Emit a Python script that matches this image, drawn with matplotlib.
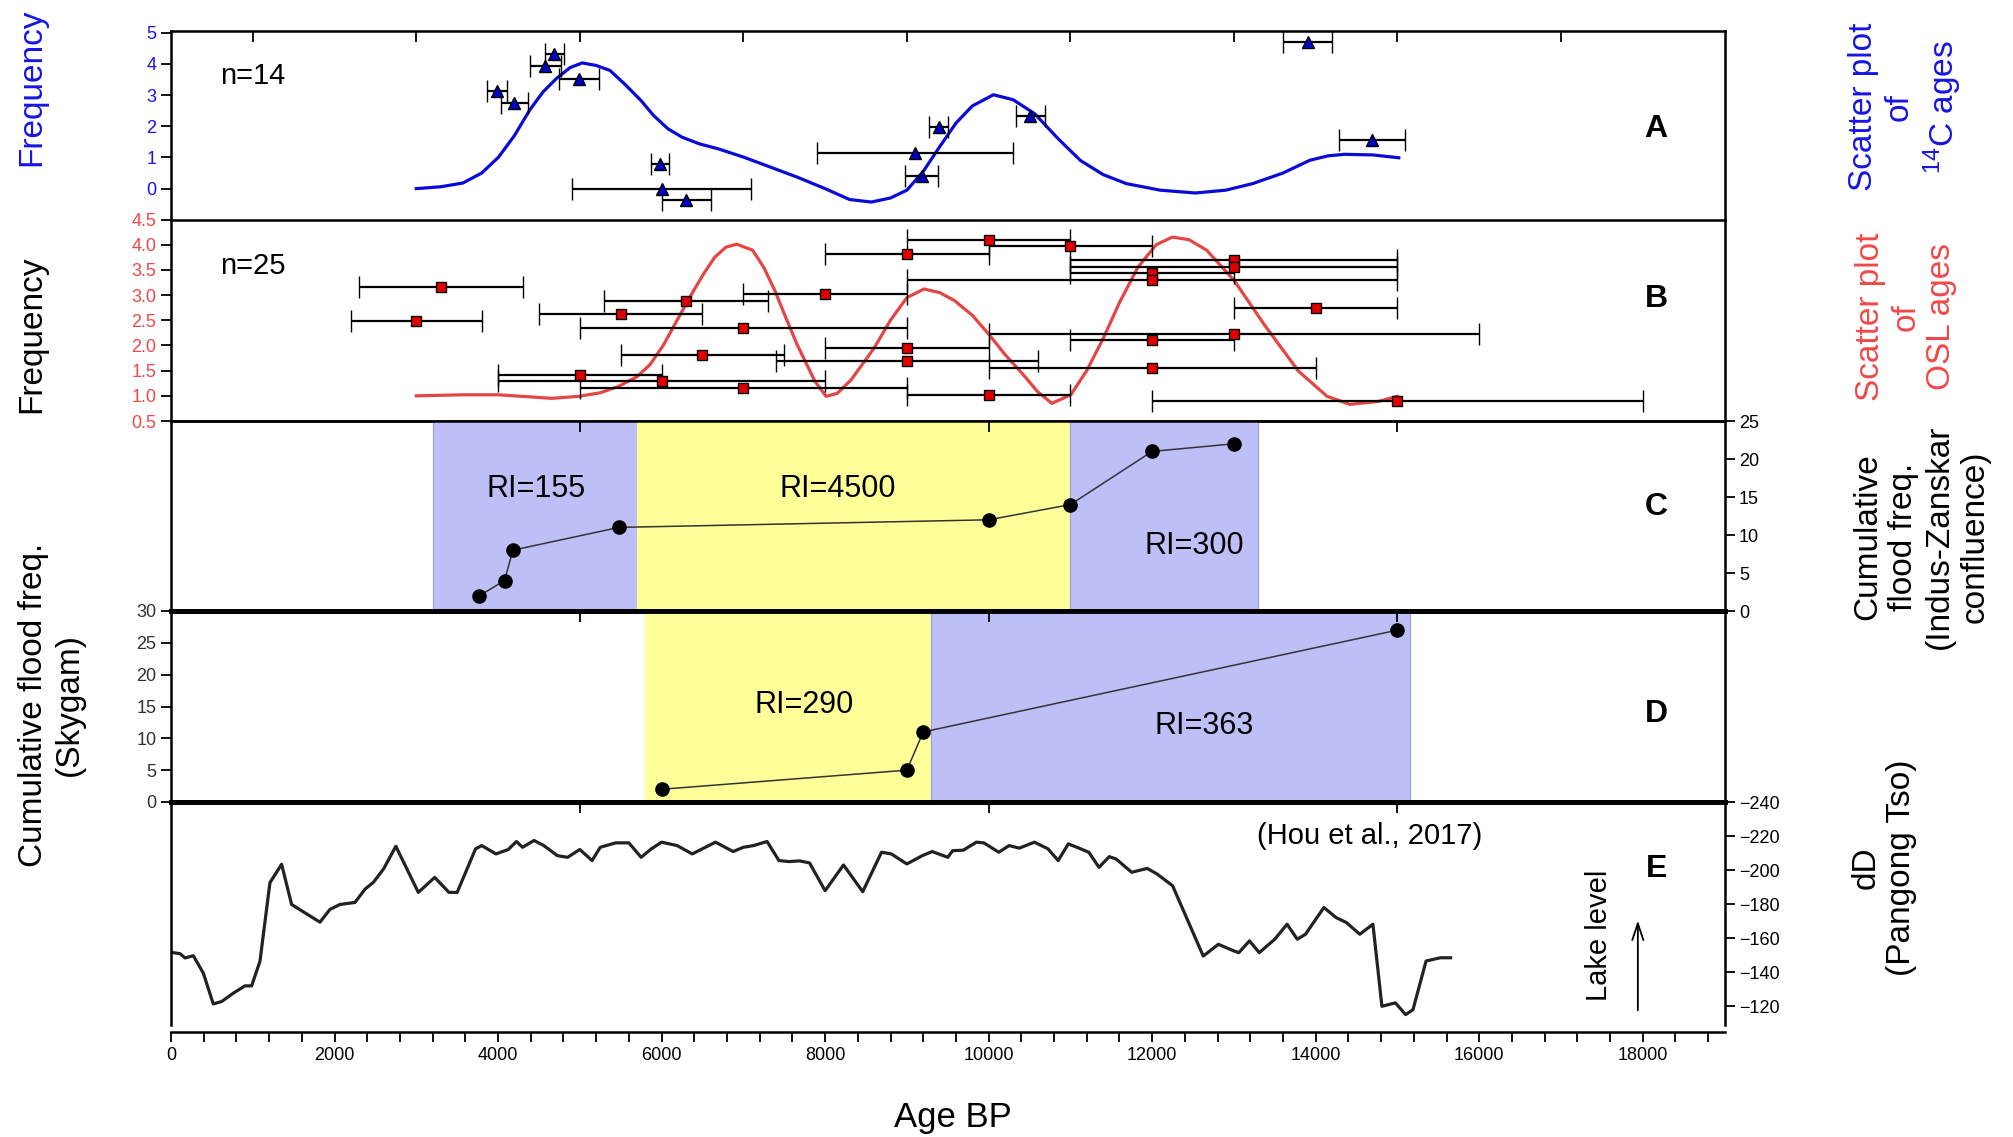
import numpy as np
import matplotlib
matplotlib.use('Agg')
import matplotlib.pyplot as plt

plt.rcParams['font.family'] = ['Liberation Sans', 'DejaVu Sans']
plt.rcParams['mathtext.fontset'] = 'custom'
plt.rcParams['mathtext.rm'] = 'Liberation Sans'

# ---- A: 14C ages ----
c14_age = [4690, 4580, 4990, 3990, 4200, 5980, 6000, 6300, 13900, 9390, 9100, 9180, 10510, 14690]
c14_err = [120, 185, 245, 125, 165, 115, 1090, 300, 300, 115, 1200, 200, 180, 400]
c14_freq = [4.33, 3.92, 3.53, 3.13, 2.75, 0.78, 0.0, -0.37, 4.70, 1.98, 1.14, 0.41, 2.33, 1.55]
c14_curve_age = [3000, 3300, 3570, 3800, 4006, 4200, 4387, 4550, 4714, 4880, 5030, 5200, 5368,
                 5550, 5750, 5900, 6077, 6250, 6458, 6700, 7003, 7300, 7657, 8000, 8300, 8565,
                 8800, 9000, 9200, 9372, 9600, 9800, 10059, 10300, 10564, 10850, 11124, 11400,
                 11685, 12100, 12527, 12900, 13228, 13600, 13929, 14150, 14350, 14700, 15016]
c14_curve = [0.0, 0.06, 0.18, 0.5, 1.01, 1.7, 2.52, 3.1, 3.53, 3.88, 4.03, 3.95, 3.79,
             3.35, 2.82, 2.35, 1.92, 1.65, 1.44, 1.27, 1.01, 0.72, 0.37, 0.0, -0.35, -0.43,
             -0.3, -0.05, 0.55, 1.23, 2.1, 2.65, 3.01, 2.85, 2.4, 1.6, 0.9, 0.45,
             0.16, -0.05, -0.14, -0.05, 0.16, 0.5, 0.91, 1.05, 1.1, 1.08, 0.99]

# ---- B: OSL ages ----
osl_age = [3300, 3000, 6300, 5500, 7000, 6500, 5000, 6000, 7000, 8000, 10000, 11000, 9000,
           13000, 13000, 12000, 12000, 14000, 13000, 12000, 9000, 9000, 12000, 10000, 15000]
osl_err = [1000, 800, 1000, 1000, 2000, 1000, 1000, 2000, 2000, 1000, 1000, 1000, 1000,
           2000, 2000, 1000, 3000, 1000, 3000, 1000, 1000, 1600, 2000, 1000, 3000]
osl_freq = [3.16, 2.48, 2.88, 2.62, 2.35, 1.82, 1.41, 1.29, 1.15, 3.02, 4.09, 3.97, 3.81,
            3.69, 3.55, 3.43, 3.29, 2.75, 2.23, 2.10, 1.95, 1.69, 1.55, 1.02, 0.89]
osl_curve_age = [3000, 3570, 4006, 4660, 4987, 5250, 5477, 5700, 5859, 6020, 6186, 6350, 6513,
                 6650, 6786, 6920, 7113, 7250, 7385, 7520, 7657, 7875, 8012, 8150, 8320, 8600,
                 8800, 9000, 9210, 9400, 9582, 9800, 10003, 10200, 10423, 10600, 10774, 11005,
                 11200, 11405, 11600, 11825, 12050, 12246, 12450, 12667, 13003, 13368, 13789,
                 14139, 14420, 14771, 15000]
osl_curve = [1.0, 1.02, 1.02, 0.95, 0.99, 1.06, 1.19, 1.38, 1.62, 2.0, 2.49, 2.97, 3.42,
             3.75, 3.95, 4.01, 3.89, 3.55, 3.09, 2.55, 2.02, 1.29, 0.99, 1.05, 1.32, 1.95,
             2.5, 2.95, 3.12, 3.05, 2.89, 2.6, 2.22, 1.82, 1.42, 1.08, 0.85, 1.02,
             1.5, 2.15, 2.85, 3.55, 4.0, 4.15, 4.1, 3.89, 3.29, 2.42, 1.49,
             0.99, 0.83, 0.89, 0.99]

# ---- C: Indus-Zanskar cumulative floods ----
iz_age = [3770, 4080, 4180, 5480, 10000, 11000, 12000, 13000]
iz_cum = [2, 4, 8, 11, 12, 14, 21, 22]
iz_spans = [(3200, 5700), (5700, 11000), (11000, 13300)]
iz_colors = ['#bfbff8', '#ffff99', '#bfbff8']
iz_labels = ['RI=155', 'RI=4500', 'RI=300']
iz_label_pos = [(4460, 16.0), (8160, 16.0), (12510, 8.6)]

# ---- D: Skygam cumulative floods ----
sk_age = [6000, 9000, 9200, 15000]
sk_cum = [2, 5, 11, 27]
sk_spans = [(5800, 9300), (9300, 15150)]
sk_colors = ['#ffff99', '#bfbff8']
sk_labels = ['RI=290', 'RI=363']
sk_label_pos = [(7740, 15.3), (12640, 11.9)]

# ---- E: dD Pangong Tso ----
dd_age = [0, 110, 171, 273, 395, 517, 620, 762, 905, 986, 1088, 1210, 1353, 1475, 1822, 1944,
          2066, 2250, 2375, 2475, 2600, 2750, 3025, 3225, 3400, 3500, 3725, 3800, 3975, 4125,
          4225, 4300, 4440, 4560, 4725, 4850, 5000, 5150, 5250, 5440, 5600, 5750, 5875, 6000,
          6190, 6375, 6660, 6875, 7000, 7125, 7290, 7435, 7560, 7690, 7810, 8000, 8225, 8460,
          8690, 8810, 9000, 9190, 9310, 9500, 9560, 9690, 9850, 9940, 10125, 10250, 10375,
          10560, 10725, 10850, 10975, 11125, 11225, 11350, 11475, 11560, 11750, 11940, 12060,
          12250, 12625, 12810, 13000, 13060, 13190, 13310, 13500, 13650, 13775, 13875, 14100,
          14250, 14375, 14540, 14700, 14810, 14975, 15100, 15190, 15350, 15525, 15650]
dd_val = [-151.7, -150.9, -148.4, -149.7, -139.5, -121.4, -122.8, -127.7, -132, -132, -146.4,
          -192.6, -203.4, -179.8, -169.4, -176.9, -179.8, -181, -188.9, -192.8, -200.7, -214,
          -186.9, -195.7, -186.9, -186.9, -212.5, -214.4, -209.5, -212.1, -216.8, -213.4,
          -217.4, -214.4, -208.5, -207.5, -212.1, -205.6, -213.4, -216, -216, -207.5, -212.5,
          -216.4, -214.4, -209.5, -216.4, -210.9, -213.4, -214.4, -216.8, -205.6, -205, -205.4,
          -204.2, -187.9, -203, -187.3, -210.5, -209.5, -203.6, -208.5, -210.9, -207.5, -211.4,
          -211.7, -216.4, -216, -210.5, -214.4, -212.9, -216.4, -212.5, -205.6, -215.4, -212.5,
          -210.5, -201.6, -207.9, -206.5, -198.7, -201, -197.7, -190.8, -149.5, -156.4, -152.5,
          -151.5, -158.4, -151.5, -159.4, -168.2, -159.4, -162.3, -178, -172.1, -169.2, -162.3,
          -168.2, -120, -122, -115.1, -118, -146.6, -148.5, -148.5]

BLUE = '#1414e6'
RED = '#f04848'

W, H = 2013, 1137
fig = plt.figure(figsize=(W / 100, H / 100), dpi=100)


def box(top, bottom, left=171, right=1724.5):
    return [left / W, 1 - bottom / H, (right - left) / W, (bottom - top) / H]


def fpos(x, y):
    return x / W, 1 - y / H


axA = fig.add_axes(box(30.5, 219.5))
axB = fig.add_axes(box(219.5, 421))
axC = fig.add_axes(box(421, 611))
axD = fig.add_axes(box(611, 802))
axE = fig.add_axes(box(802, 1025))

for ax in (axA, axB, axC, axD, axE):
    ax.set_xlim(0, 19000)
    ax.patch.set_alpha(0)
    for s in ax.spines.values():
        s.set_linewidth(1.8)
    ax.tick_params(labelsize=13, width=1.3, length=7)
axB.spines['top'].set_visible(False)

# A
axA.plot(c14_curve_age, c14_curve, color='#0a0ad8', lw=2.3, zorder=2)
axA.errorbar(c14_age, c14_freq, xerr=c14_err, fmt='^', ms=9, mfc='#0000c8', mec='black',
             mew=1.0, ecolor='black', elinewidth=1.6, capsize=8, capthick=1.6, zorder=3)
axA.set_ylim(-0.99, 5.07)
axA.set_yticks(range(0, 6))
axA.tick_params(axis='y', colors='black', labelcolor=BLUE, direction='out')
axA.set_xticks(range(1000, 18000, 2000))
axA.tick_params(axis='x', bottom=False, top=True, direction='in', labelbottom=False, length=8)
axA.text(600, 3.6, 'n=14', fontsize=21, va='center', ha='left')
axA.text(0.956, 0.48, 'A', transform=axA.transAxes, fontsize=23, fontweight='bold',
         ha='center', va='center')

# B
axB.plot(osl_curve_age, osl_curve, color='#e54545', lw=2.3, zorder=2)
axB.errorbar(osl_age, osl_freq, xerr=osl_err, fmt='s', ms=7, mfc='#e00000', mec='black',
             mew=1.0, ecolor='black', elinewidth=1.6, capsize=8, capthick=1.6, zorder=3)
axB.set_ylim(0.5, 4.5)
axB.set_yticks(np.arange(0.5, 4.51, 0.5))
axB.set_yticklabels([f'{v:.1f}' for v in np.arange(0.5, 4.51, 0.5)])
axB.tick_params(axis='y', labelcolor=RED, direction='out')
axB.set_xticks([])
axB.text(600, 3.58, 'n=25', fontsize=21, va='center', ha='left')
axB.text(0.956, 0.605, 'B', transform=axB.transAxes, fontsize=23, fontweight='bold',
         ha='center', va='center')

# C
for (a, b), col in zip(iz_spans, iz_colors):
    axC.axvspan(a, b, color=col, zorder=0, lw=0.8, ec='#9a9ae0' if col != '#ffff99' else col)
axC.plot(iz_age, iz_cum, color='#333333', lw=1.1, marker='o', ms=9.5, mfc='black',
         mec='black', zorder=3)
for t, (x, y) in zip(iz_labels, iz_label_pos):
    axC.text(x, y, t, fontsize=22, ha='center', va='center')
axC.set_ylim(0, 25)
axC.yaxis.tick_right()
axC.set_yticks(range(0, 26, 5))
axC.tick_params(axis='y', direction='out')
axC.set_xticks([5000, 10000, 15000])
axC.tick_params(axis='x', bottom=False, top=True, direction='in', labelbottom=False, length=8)
axC.spines['bottom'].set_linewidth(3.5)
axC.text(0.956, 0.547, 'C', transform=axC.transAxes, fontsize=23, fontweight='bold',
         ha='center', va='center')

# D
for (a, b), col in zip(sk_spans, sk_colors):
    axD.axvspan(a, b, color=col, zorder=0, lw=0.8, ec='#9a9ae0' if col != '#ffff99' else col)
axD.plot(sk_age, sk_cum, color='#333333', lw=1.1, marker='o', ms=9.5, mfc='black',
         mec='black', zorder=3)
for t, (x, y) in zip(sk_labels, sk_label_pos):
    axD.text(x, y, t, fontsize=22, ha='center', va='center')
axD.set_ylim(0, 30)
axD.set_yticks(range(0, 31, 5))
axD.tick_params(axis='y', direction='out', labelcolor='#333333')
axD.set_xticks([5000, 10000, 15000])
axD.tick_params(axis='x', bottom=False, top=True, direction='in', labelbottom=False, length=8)
axD.spines['top'].set_linewidth(3.5)
axD.spines['bottom'].set_linewidth(3.5)
axD.text(0.956, 0.46, 'D', transform=axD.transAxes, fontsize=23, fontweight='bold',
         ha='center', va='center')

# E
axE.plot(dd_age, dd_val, color='#222222', lw=2.3)
axE.set_ylim(-109, -240)
axE.yaxis.tick_right()
axE.set_yticks(range(-240, -119, 20))
axE.tick_params(axis='y', direction='out')
axE.spines['top'].set_linewidth(3.5)
axE.spines['bottom'].set_position(('outward', 5))
axE.set_xticks(range(0, 18001, 2000))
axE.set_xticks(np.arange(0, 19001, 400), minor=True)
axE.tick_params(axis='x', which='both', direction='out', length=7, width=1.3)
secE = axE.secondary_xaxis('top')
secE.set_xticks([5000, 10000, 15000])
secE.tick_params(direction='in', length=8, width=1.3, labeltop=False)
secE.spines['top'].set_visible(False)
axE.text(14660, -219.8, '(Hou et al., 2017)', fontsize=21, ha='center', va='center')
axE.text(17470, -161.6, 'Lake level', fontsize=21, rotation=90, ha='center', va='center')
axE.annotate('', xy=(17940, -172), xytext=(17940, -116),
             arrowprops=dict(arrowstyle='->,head_length=1.2,head_width=0.4', lw=1.3,
                             color='black'))
axE.text(0.956, 0.70, 'E', transform=axE.transAxes, fontsize=23, fontweight='bold',
         ha='center', va='center')

# axis titles
fig.text(*fpos(953, 1117), 'Age BP', fontsize=25, ha='center', va='center')
fig.text(*fpos(32, 87), 'Frequency', fontsize=24, color=BLUE, rotation=90,
         ha='center', va='center')
fig.text(*fpos(32, 334), 'Frequency', fontsize=24, rotation=90, ha='center', va='center')
fig.text(*fpos(51, 705), 'Cumulative flood freq.\n(Skygam)', fontsize=24, rotation=90,
         ha='center', va='center', multialignment='center')
fig.text(*fpos(1906, 107), 'Scatter plot\nof\n$^{14}$C ages', fontsize=24, color=BLUE,
         rotation=90, ha='center', va='center', multialignment='center')
fig.text(*fpos(1906, 317), 'Scatter plot\nof\nOSL ages', fontsize=24, color=RED,
         rotation=90, ha='center', va='center', multialignment='center')
fig.text(*fpos(1921, 537), 'Cumulative\nflood freq.\n(Indus-Zanskar\nconfluence)', fontsize=24,
         rotation=90, ha='center', va='center', multialignment='center')
fig.text(*fpos(1884, 868), 'dD\n(Pangong Tso)', fontsize=24, rotation=90,
         ha='center', va='center', multialignment='center')

fig.savefig('out.png', dpi=100, facecolor='white')
